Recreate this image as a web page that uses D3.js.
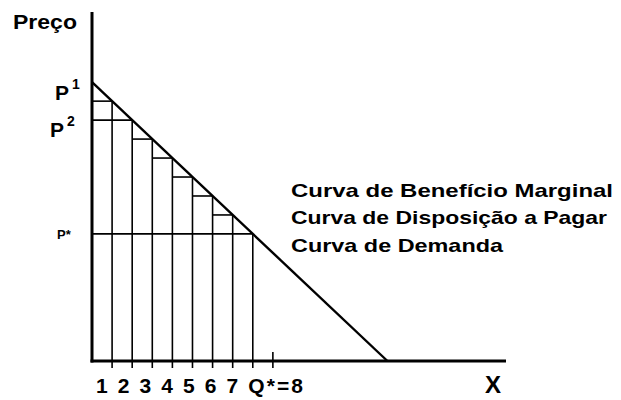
<!DOCTYPE html>
<html>
<head>
<meta charset="utf-8">
<script src="https://cdn.jsdelivr.net/npm/d3@7"></script>
<style>
  html, body { margin: 0; padding: 0; background: #fff; }
  svg { display: block; }
  text { font-family: "Liberation Sans", Arial, sans-serif; font-weight: bold; fill: #000; }
</style>
</head>
<body>
<svg id="chart" width="621" height="400"></svg>
<script>
// Units consumed (right edge of each marginal-value step)
const quantities = [1, 2, 3, 4, 5, 6, 7, 8];
// Willingness to pay for each extra unit (height of each step)
const marginalValues = [13.7, 12.7, 11.7, 10.7, 9.7, 8.7, 7.7, 6.7];
// Demand curve end points [quantity, price]
const demandPoints = [[0, 14.7], [14.7, 0]];
// Labelled price levels: which step they belong to
const priceLabels = [
  { main: "P", sup: "1", q: 1 },
  { main: "P", sup: "2", q: 2 },
  { main: "P*", sup: "", q: 8 }
];
// Axis tick labels under the steps, and the extra tick after Q*
const tickLabels = ["1", "2", "3", "4", "5", "6", "7", "Q*=8"];
const extraTick = 9;
const curveNames = [
  "Curva de Benefício Marginal",
  "Curva de Disposição a Pagar",
  "Curva de Demanda"
];

const svg = d3.select("#chart");

const x = d3.scaleLinear().domain([0, 20.6]).range([92, 506]);
const y = d3.scaleLinear().domain([0, 18.4]).range([361, 12]);

const steps = quantities.map((q, i) => ({ q, p: marginalValues[i] }));

// vertical step edges, running a little below the axis as ticks
svg.append("g")
  .selectAll("line")
  .data(steps)
  .join("line")
  .attr("x1", d => x(d.q)).attr("x2", d => x(d.q))
  .attr("y1", d => y(d.p)).attr("y2", y(0) + 7)
  .attr("stroke", "#000").attr("stroke-width", 1.6);

// step tops
const labelled = new Set(priceLabels.map(d => d.q));
svg.append("g")
  .selectAll("line")
  .data(steps)
  .join("line")
  .attr("x1", d => labelled.has(d.q) ? x(0) : x(d.q - 1))
  .attr("x2", d => x(d.q))
  .attr("y1", d => y(d.p)).attr("y2", d => y(d.p))
  .attr("stroke", "#000").attr("stroke-width", 1.6);

// tick beneath Q*
svg.append("line")
  .attr("x1", x(extraTick)).attr("x2", x(extraTick))
  .attr("y1", y(0) - 9).attr("y2", y(0) + 7)
  .attr("stroke", "#000").attr("stroke-width", 1.6);

// demand curve
svg.append("path")
  .datum(demandPoints)
  .attr("d", d3.line().x(d => x(d[0])).y(d => y(d[1])))
  .attr("fill", "none").attr("stroke", "#000").attr("stroke-width", 2.4);

// axes
svg.append("line")
  .attr("x1", x(0)).attr("x2", x(0))
  .attr("y1", y(y.domain()[1])).attr("y2", y(0) + 1.5)
  .attr("stroke", "#000").attr("stroke-width", 3);
svg.append("line")
  .attr("x1", x(0) - 1.5).attr("x2", x(x.domain()[1]))
  .attr("y1", y(0)).attr("y2", y(0))
  .attr("stroke", "#000").attr("stroke-width", 3);

// axis titles
svg.append("text").attr("x", 13).attr("y", 29)
  .attr("font-size", 20).attr("textLength", 64).attr("lengthAdjust", "spacingAndGlyphs")
  .text("Preço");
svg.append("text").attr("x", 485).attr("y", 393)
  .attr("font-size", 24)
  .text("X");

// quantity labels along the axis
svg.append("text").attr("x", 96).attr("y", 393)
  .attr("font-size", 21).attr("textLength", 207).attr("lengthAdjust", "spacing")
  .text(tickLabels.join(" "));

// price labels
const labelStyle = {
  1: { x: 55, dy: -1, size: 21 },
  2: { x: 50, dy: 17, size: 21 },
  8: { x: 57, dy: 5, size: 13 }
};
priceLabels.forEach(d => {
  const s = labelStyle[d.q];
  const base = y(marginalValues[quantities.indexOf(d.q)]) + s.dy;
  const t = svg.append("text").attr("x", s.x).attr("y", base).attr("font-size", s.size);
  t.append("tspan").text(d.main);
  if (d.sup) t.append("tspan").attr("font-size", 14).attr("dx", 3).attr("dy", -11).text(d.sup);
});

// curve names
const nameWidths = [322, 316, 212];
svg.append("g")
  .selectAll("text")
  .data(curveNames)
  .join("text")
  .attr("x", 291)
  .attr("y", (d, i) => 197 + i * 27.4)
  .attr("font-size", 19)
  .attr("textLength", (d, i) => nameWidths[i])
  .attr("lengthAdjust", "spacingAndGlyphs")
  .text(d => d);
</script>
</body>
</html>
